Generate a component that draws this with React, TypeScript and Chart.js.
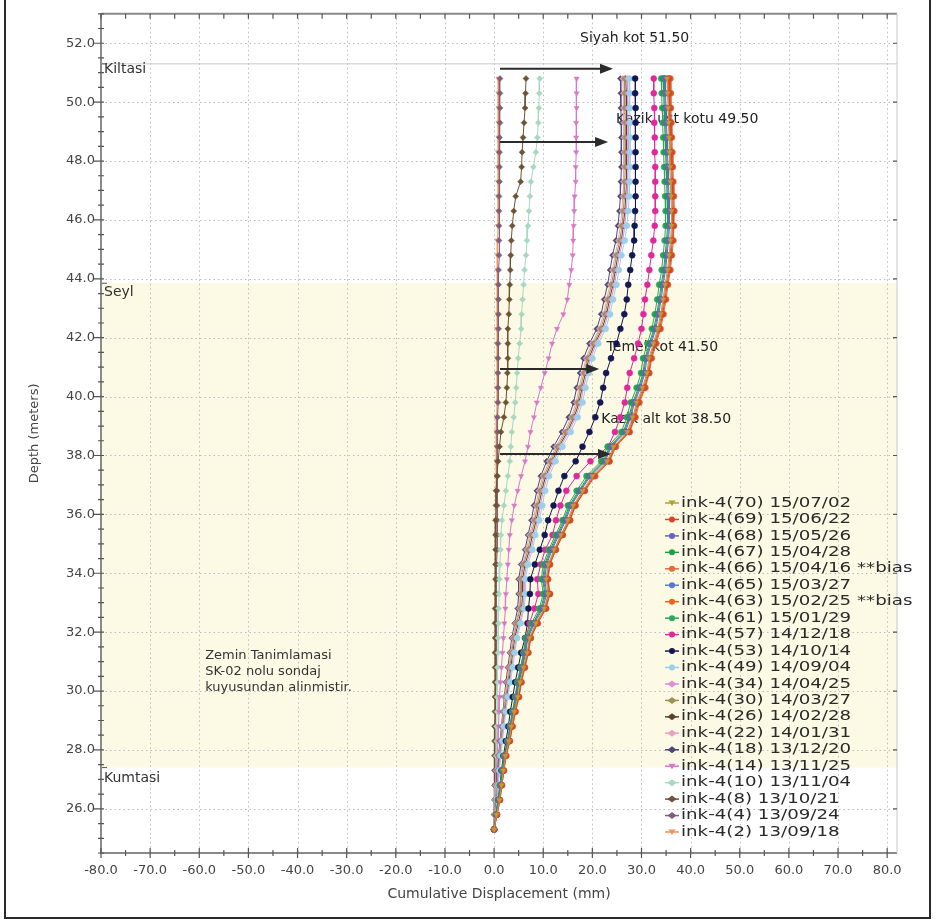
import React, { useEffect, useRef } from "react";
import { Chart, registerables } from "chart.js";

Chart.register(...registerables);

const FONT = '"DejaVu Sans", Verdana, sans-serif';

// depth of each reading (m), top to bottom
const depths = [50.8, 50.3, 49.8, 49.3, 48.8, 48.3, 47.8, 47.3, 46.8, 46.3, 45.8, 45.3, 44.8, 44.3, 43.8, 43.3, 42.8, 42.3, 41.8, 41.3, 40.8, 40.3, 39.8, 39.3, 38.8, 38.3, 37.8, 37.3, 36.8, 36.3, 35.8, 35.3, 34.8, 34.3, 33.8, 33.3, 32.8, 32.3, 31.8, 31.3, 30.8, 30.3, 29.8, 29.3, 28.8, 28.3, 27.8, 27.3, 26.8, 26.3, 25.8, 25.3];

// cumulative displacement (mm) per reading
const s70 = [35.2,35.3,35.4,35.5,35.6,35.7,35.8,35.9,36.0,36.1,36.1,35.9,35.6,35.3,34.8,34.4,33.9,33.3,32.4,31.5,31.1,30.2,29.0,28.2,27.1,24.3,23.0,20.0,18.0,16.1,15.0,13.6,12.2,11.0,10.6,11.0,10.2,8.5,7.2,6.7,6.0,5.3,4.8,4.1,3.5,3.0,2.3,1.9,1.5,1.1,0.5,0.0];
const s69 = [35.6,35.7,35.8,35.9,36.0,36.1,36.2,36.3,36.4,36.5,36.5,36.3,36.0,35.7,35.2,34.8,34.3,33.7,32.8,31.9,31.5,30.6,29.4,28.6,27.5,24.6,23.4,20.4,18.4,16.5,15.4,13.9,12.5,11.3,10.9,11.3,10.5,8.8,7.4,6.9,6.2,5.5,5.0,4.3,3.7,3.2,2.4,2.0,1.6,1.2,0.6,0.0];
const s68 = [34.8,34.9,35.0,35.1,35.2,35.3,35.4,35.5,35.6,35.7,35.7,35.5,35.2,34.9,34.4,34.0,33.5,32.9,32.0,31.1,30.7,29.8,28.6,27.8,26.7,23.9,22.6,19.6,17.6,15.7,14.6,13.2,11.8,10.7,10.3,10.7,9.9,8.2,6.9,6.4,5.8,5.1,4.6,4.0,3.4,2.9,2.2,1.8,1.4,1.0,0.5,0.0];
const s67 = [34.4,34.5,34.6,34.7,34.8,34.9,35.0,35.1,35.2,35.3,35.3,35.1,34.8,34.5,34.0,33.6,33.1,32.5,31.6,30.7,30.3,29.4,28.2,27.4,26.3,23.5,22.2,19.2,17.2,15.3,14.2,12.8,11.4,10.3,9.9,10.3,9.5,7.9,6.6,6.2,5.6,4.9,4.4,3.8,3.3,2.8,2.1,1.7,1.3,0.9,0.4,0.0];
const s66 = [35.9,36.0,36.0,36.1,36.2,36.3,36.4,36.5,36.6,36.7,36.6,36.5,36.2,35.9,35.4,35.0,34.5,33.9,33.0,32.1,31.6,30.8,29.6,28.8,27.6,24.8,23.5,20.6,18.5,16.6,15.5,14.0,12.6,11.4,11.0,11.4,10.6,8.9,7.5,7.0,6.3,5.6,5.1,4.4,3.8,3.2,2.5,2.0,1.6,1.2,0.6,0.0];
const s65 = [34.6,34.7,34.8,34.9,35.0,35.1,35.2,35.3,35.4,35.5,35.5,35.3,35.0,34.7,34.2,33.8,33.3,32.7,31.8,30.9,30.5,29.6,28.4,27.6,26.5,23.7,22.4,19.4,17.4,15.5,14.4,13.0,11.6,10.5,10.1,10.5,9.7,8.0,6.8,6.3,5.7,5.0,4.5,3.9,3.3,2.8,2.1,1.7,1.3,0.9,0.4,0.0];
const s63 = [35.4,35.5,35.6,35.7,35.8,35.9,36.0,36.1,36.2,36.3,36.3,36.1,35.8,35.5,35.0,34.6,34.1,33.5,32.6,31.7,31.3,30.4,29.2,28.4,27.3,24.5,23.2,20.2,18.2,16.3,15.2,13.7,12.3,11.1,10.8,11.1,10.3,8.6,7.3,6.8,6.1,5.4,4.9,4.2,3.6,3.1,2.3,1.9,1.5,1.1,0.5,0.0];
const s61 = [34.0,34.1,34.2,34.3,34.4,34.5,34.6,34.7,34.8,34.9,34.9,34.7,34.4,34.1,33.6,33.2,32.7,32.1,31.2,30.3,29.9,29.0,27.8,27.0,25.9,23.1,21.8,18.8,16.8,15.0,13.9,12.5,11.1,10.0,9.6,10.0,9.2,7.6,6.4,6.0,5.4,4.7,4.3,3.7,3.2,2.7,2.0,1.6,1.2,0.9,0.4,0.0];
const s57 = [32.5,32.5,32.6,32.6,32.7,32.7,32.8,32.8,32.8,32.8,32.7,32.4,32.0,31.6,31.2,30.7,30.4,30.0,29.3,28.5,27.6,27.1,26.6,25.7,24.6,23.2,19.6,16.8,14.7,13.5,12.6,11.9,10.4,9.5,8.8,9.0,8.2,7.2,6.5,6.0,5.4,4.8,4.3,3.8,3.3,2.8,2.2,1.8,1.4,1.0,0.5,0.0];
const s53 = [28.7,28.7,28.8,28.8,28.8,28.8,28.8,28.8,28.8,28.7,28.6,28.5,28.1,27.7,27.3,27.0,26.5,25.7,24.9,23.8,22.8,22.2,21.6,20.6,19.4,18.0,16.6,14.3,13.1,12.1,11.0,10.3,9.3,8.3,7.4,7.3,7.0,6.8,6.3,5.5,4.9,4.3,3.8,3.3,2.9,2.4,1.9,1.5,1.2,0.8,0.4,0.0];
const s49 = [27.5,27.6,27.6,27.7,27.7,27.7,27.7,27.6,27.5,27.3,27.0,26.6,25.9,25.4,24.9,24.2,23.6,22.7,21.2,20.0,19.3,18.6,18.0,17.0,15.6,13.9,12.5,11.2,10.4,9.8,9.2,8.4,7.8,6.9,6.4,6.4,6.1,5.4,4.7,4.2,3.8,3.3,2.8,2.4,2.0,1.7,1.3,1.1,0.9,0.6,0.3,0.0];
const s34 = [27.1,27.2,27.2,27.3,27.3,27.3,27.3,27.2,27.1,26.9,26.6,26.2,25.5,25.0,24.5,23.8,23.2,22.3,20.8,19.6,18.9,18.2,17.6,16.6,15.2,13.5,12.1,10.8,10.0,9.4,8.9,8.1,7.5,6.6,6.1,6.1,5.9,5.2,4.5,4.0,3.6,3.2,2.7,2.3,1.9,1.6,1.3,1.0,0.8,0.6,0.3,0.0];
const s30 = [26.5,26.6,26.6,26.7,26.7,26.7,26.7,26.6,26.5,26.3,26.0,25.6,24.9,24.4,23.9,23.2,22.6,21.7,20.2,19.0,18.3,17.6,17.0,16.0,14.6,12.9,11.5,10.2,9.4,8.8,8.3,7.5,6.9,6.0,5.5,5.5,5.3,4.6,4.0,3.6,3.2,2.8,2.4,2.0,1.7,1.4,1.1,0.9,0.7,0.5,0.2,0.0];
const s26 = [26.8,26.9,26.9,27.0,27.0,27.0,27.0,26.9,26.8,26.6,26.3,25.9,25.2,24.7,24.2,23.5,22.9,22.0,20.5,19.3,18.6,17.9,17.3,16.3,14.9,13.2,11.8,10.5,9.7,9.1,8.6,7.8,7.2,6.3,5.8,5.8,5.6,4.9,4.2,3.8,3.4,3.0,2.6,2.2,1.8,1.5,1.2,1.0,0.8,0.5,0.2,0.0];
const s22 = [26.2,26.3,26.3,26.4,26.4,26.4,26.4,26.3,26.2,26.0,25.7,25.3,24.6,24.1,23.6,22.9,22.3,21.4,19.9,18.7,18.0,17.3,16.7,15.7,14.3,12.6,11.2,9.9,9.1,8.5,8.0,7.2,6.6,5.8,5.3,5.3,5.1,4.4,3.8,3.4,3.0,2.6,2.2,1.9,1.6,1.3,1.0,0.8,0.6,0.4,0.2,0.0];
const s18 = [25.7,25.8,25.8,25.9,25.9,25.9,25.9,25.8,25.7,25.5,25.2,24.8,24.1,23.6,23.1,22.4,21.8,20.9,19.4,18.2,17.5,16.8,16.2,15.2,13.8,12.1,10.7,9.5,8.7,8.1,7.6,6.9,6.3,5.5,5.0,5.0,4.8,4.2,3.6,3.2,2.8,2.4,2.1,1.8,1.5,1.2,0.9,0.7,0.6,0.4,0.2,0.0];
const s14 = [16.8,16.8,16.8,16.7,16.7,16.7,16.6,16.6,16.4,16.3,16.2,16.1,16.0,15.7,15.3,14.9,14.1,12.8,11.8,11.1,10.3,9.5,8.7,8.1,7.4,6.9,6.3,5.5,4.8,4.1,3.6,3.2,3.0,2.8,2.6,2.4,2.3,2.1,1.9,1.7,1.5,1.3,1.1,1.0,0.9,0.8,0.6,0.5,0.4,0.3,0.1,0.0];
const s10 = [9.3,9.2,9.1,9.0,8.8,8.5,8.0,7.5,7.3,7.1,6.9,6.7,6.5,6.2,6.0,5.8,5.6,5.5,5.2,4.9,4.7,4.5,4.3,4.0,3.6,3.4,3.2,2.8,2.4,2.0,1.6,1.4,1.3,1.2,1.1,1.0,0.9,0.9,0.8,0.8,0.7,0.7,0.6,0.6,0.5,0.5,0.4,0.4,0.3,0.2,0.1,0.0];
const s8 = [6.5,6.4,6.3,6.1,5.9,5.7,5.6,5.4,4.4,4.0,3.7,3.5,3.4,3.3,3.2,3.1,3.0,2.8,2.8,2.8,2.7,2.6,2.4,2.0,1.4,1.1,0.8,0.6,0.4,0.4,0.3,0.3,0.3,0.3,0.3,0.3,0.2,0.2,0.2,0.2,0.2,0.2,0.2,0.2,0.1,0.1,0.1,0.1,0.1,0.1,0.0,0.0];
const s4 = [1.2,1.2,1.2,1.2,1.1,1.1,1.1,1.1,1.0,1.0,1.0,1.0,1.0,0.9,0.9,0.9,0.9,0.9,0.8,0.8,0.8,0.8,0.8,0.7,0.7,0.7,0.7,0.7,0.6,0.6,0.6,0.6,0.6,0.5,0.5,0.5,0.5,0.5,0.4,0.4,0.4,0.4,0.3,0.3,0.3,0.3,0.2,0.2,0.2,0.1,0.1,0.0];
const s2 = [0.9,0.9,0.9,0.9,0.9,0.8,0.8,0.8,0.8,0.8,0.8,0.7,0.7,0.7,0.7,0.7,0.7,0.6,0.6,0.6,0.6,0.6,0.6,0.5,0.5,0.5,0.5,0.5,0.5,0.4,0.4,0.4,0.4,0.4,0.4,0.3,0.3,0.3,0.3,0.3,0.3,0.2,0.2,0.2,0.2,0.2,0.1,0.1,0.1,0.1,0.0,0.0];

const seriesLabels = [
  "ink-4(70) 15/07/02", "ink-4(69) 15/06/22", "ink-4(68) 15/05/26", "ink-4(67) 15/04/28",
  "ink-4(66) 15/04/16 **bias", "ink-4(65) 15/03/27", "ink-4(63) 15/02/25 **bias", "ink-4(61) 15/01/29",
  "ink-4(57) 14/12/18", "ink-4(53) 14/10/14", "ink-4(49) 14/09/04", "ink-4(34) 14/04/25",
  "ink-4(30) 14/03/27", "ink-4(26) 14/02/28", "ink-4(22) 14/01/31", "ink-4(18) 13/12/20",
  "ink-4(14) 13/11/25", "ink-4(10) 13/11/04", "ink-4(8) 13/10/21", "ink-4(4) 13/09/24", "ink-4(2) 13/09/18",
];
const seriesValues = [s70, s69, s68, s67, s66, s65, s63, s61, s57, s53, s49, s34, s30, s26, s22, s18, s14, s10, s8, s4, s2];
const seriesColors = [
  "#b8a032", "#d9452a", "#6464c0", "#1f9e4a", "#e06a3a", "#5878c8", "#e8661e", "#2ea85a",
  "#e0289a", "#141850", "#9ccfea", "#e08cd8", "#a09058", "#5a4028", "#eaa0bc", "#4a4a78",
  "#d878c8", "#a8d8c0", "#6e5434", "#806078", "#f0925a",
];
const seriesMarkers = [
  "triangle", "circle", "circle", "circle", "circle", "circle", "circle", "circle",
  "circle", "circle", "circle", "rectRot", "rectRot", "rectRot", "rectRot", "rectRot",
  "triangle", "rectRot", "rectRot", "rectRot", "triangle",
];

const xTicks = [-80, -70, -60, -50, -40, -30, -20, -10, 0, 10, 20, 30, 40, 50, 60, 70, 80];
const yTicks = [26, 28, 30, 32, 34, 36, 38, 40, 42, 44, 46, 48, 50, 52];

// annotations
const arrowDepths = [51.13, 48.65, 40.94, 38.05];
const arrowFrom = [1.2, 1.2, 1.2, 1.2];
const arrowTo = [24.2, 23.2, 21.4, 23.8];
const noteTexts = ["Siyah kot 51.50", "Kazik ust kotu 49.50", "Temel kot 41.50", "Kazik alt kot 38.50"];
const noteX = [17.5, 24.8, 22.9, 21.8];
const noteY = [52.18, 49.43, 41.68, 39.23];

// soil layers
const layerNames = ["Kiltasi", "Seyl", "Kumtasi"];
const layerLabelDepths = [51.12, 43.55, 27.05];
const layerBounds = [51.3, 43.85, 27.4];
const zeminLines = ["Zemin Tanimlamasi", "SK-02 nolu sondaj", "kuyusundan alinmistir."];
const zeminX = -58.8;
const zeminY = [31.22, 30.67, 30.12];

export default function App() {
  const ref = useRef<HTMLCanvasElement | null>(null);

  useEffect(() => {
    const canvas = ref.current;
    if (!canvas) return;

    const backPlugin = {
      id: "backPlugin",
      beforeDatasetsDraw(chart: any) {
        const { ctx, chartArea: a } = chart;
        const x = chart.scales.x, y = chart.scales.y;
        ctx.save();
        ctx.fillStyle = "#ffffff";
        ctx.fillRect(a.left, a.top, a.right - a.left, a.bottom - a.top);
        const yt = y.getPixelForValue(layerBounds[1]);
        const yb = y.getPixelForValue(layerBounds[2]);
        ctx.fillStyle = "rgb(252,249,229)";
        ctx.fillRect(a.left, yt, a.right - a.left, yb - yt);
        const y0 = y.getPixelForValue(layerBounds[0]);
        ctx.strokeStyle = "#dcdcdc";
        ctx.lineWidth = 1.5;
        ctx.beginPath();
        ctx.moveTo(a.left, y0);
        ctx.lineTo(a.right, y0);
        ctx.stroke();
        // grid
        ctx.strokeStyle = "#bdbdbd";
        ctx.lineWidth = 1;
        ctx.setLineDash([1.5, 3]);
        for (const v of xTicks) {
          const px = Math.round(x.getPixelForValue(v)) + 0.5;
          if (px < a.left + 2 || px > a.right - 2) continue;
          ctx.beginPath();
          ctx.moveTo(px, a.top);
          ctx.lineTo(px, a.bottom);
          ctx.stroke();
        }
        for (const v of yTicks) {
          const py = Math.round(y.getPixelForValue(v)) + 0.5;
          ctx.beginPath();
          ctx.moveTo(a.left, py);
          ctx.lineTo(a.right, py);
          ctx.stroke();
        }
        ctx.setLineDash([]);
        // layer boundary marks & labels
        ctx.strokeStyle = "#555";
        ctx.lineWidth = 1;
        for (const b of layerBounds) {
          const py = y.getPixelForValue(b);
          ctx.beginPath();
          ctx.moveTo(a.left, py);
          ctx.lineTo(a.left + 6, py);
          ctx.stroke();
        }
        ctx.fillStyle = "#333";
        ctx.font = `14px ${FONT}`;
        ctx.textAlign = "left";
        ctx.textBaseline = "middle";
        layerNames.forEach((n, i) => {
          ctx.fillText(n, a.left + 3, y.getPixelForValue(layerLabelDepths[i]));
        });
        ctx.font = `13px ${FONT}`;
        zeminLines.forEach((t, i) => {
          ctx.fillText(t, x.getPixelForValue(zeminX), y.getPixelForValue(zeminY[i]));
        });
        // notes
        ctx.font = `14px ${FONT}`;
        ctx.fillStyle = "#222";
        noteTexts.forEach((t, i) => {
          ctx.fillText(t, x.getPixelForValue(noteX[i]), y.getPixelForValue(noteY[i]));
        });
        ctx.restore();
      },
      afterDatasetsDraw(chart: any) {
        const { ctx, chartArea: a } = chart;
        const x = chart.scales.x, y = chart.scales.y;
        ctx.save();
        // arrows
        ctx.strokeStyle = "#2a2a2a";
        ctx.fillStyle = "#2a2a2a";
        ctx.lineWidth = 2;
        arrowDepths.forEach((d, i) => {
          const py = y.getPixelForValue(d);
          const x1 = x.getPixelForValue(arrowFrom[i]);
          const x2 = x.getPixelForValue(arrowTo[i]);
          ctx.beginPath();
          ctx.moveTo(x1, py);
          ctx.lineTo(x2 - 10, py);
          ctx.stroke();
          ctx.beginPath();
          ctx.moveTo(x2, py);
          ctx.lineTo(x2 - 13, py - 5);
          ctx.lineTo(x2 - 13, py + 5);
          ctx.closePath();
          ctx.fill();
        });
        // axes frame
        ctx.strokeStyle = "#8a8a8a";
        ctx.lineWidth = 2;
        ctx.beginPath();
        ctx.moveTo(a.left, a.top);
        ctx.lineTo(a.left, a.bottom);
        ctx.lineTo(a.right, a.bottom);
        ctx.moveTo(a.left, a.top);
        ctx.lineTo(a.right, a.top);
        ctx.stroke();
        ctx.strokeStyle = "#c8c8c8";
        ctx.lineWidth = 1;
        ctx.beginPath();
        ctx.moveTo(a.right, a.top);
        ctx.lineTo(a.right, a.bottom);
        ctx.stroke();
        // ticks
        ctx.strokeStyle = "#555";
        ctx.lineWidth = 1.2;
        ctx.beginPath();
        for (let v = y.min; v <= y.max + 1e-6; v += 0.5) {
          const py = y.getPixelForValue(v);
          const major = yTicks.indexOf(Math.round(v * 10) / 10) >= 0;
          ctx.moveTo(a.left - (major ? 7 : 3), py);
          ctx.lineTo(a.left + 3, py);
          if (major) {
            ctx.moveTo(a.right - 4, py);
            ctx.lineTo(a.right, py);
          }
        }
        for (let v = -80; v <= 80; v += 5) {
          const px = x.getPixelForValue(v);
          const major = v % 10 === 0;
          ctx.moveTo(px, a.bottom - (major ? 5 : 3));
          ctx.lineTo(px, a.bottom + (major ? 5 : 3));
          ctx.moveTo(px, a.top);
          ctx.lineTo(px, a.top + 5);
        }
        ctx.stroke();
        // legend
        const lx = 665, ly = 503, rowH = 16.45;
        ctx.font = `14px ${FONT}`;
        ctx.textAlign = "left";
        ctx.textBaseline = "middle";
        chart.data.datasets.forEach((ds: any, i: number) => {
          const py = ly + i * rowH;
          ctx.strokeStyle = ds.borderColor;
          ctx.lineWidth = 1.5;
          ctx.beginPath();
          ctx.moveTo(lx, py);
          ctx.lineTo(lx + 14, py);
          ctx.stroke();
          ctx.fillStyle = ds.borderColor;
          const cx = lx + 7;
          ctx.beginPath();
          if (ds.pointStyle === "rectRot") {
            ctx.moveTo(cx, py - 3.5); ctx.lineTo(cx + 4.5, py); ctx.lineTo(cx, py + 3.5); ctx.lineTo(cx - 4.5, py);
          } else if (ds.pointStyle === "triangle") {
            ctx.moveTo(cx - 3.5, py - 2.5); ctx.lineTo(cx + 3.5, py - 2.5); ctx.lineTo(cx, py + 3);
          } else {
            ctx.arc(cx, py, 3, 0, Math.PI * 2);
          }
          ctx.closePath();
          ctx.fill();
          ctx.save();
          ctx.translate(lx + 16, py);
          ctx.scale(1.3, 1);
          ctx.fillStyle = "#2a2a2a";
          ctx.fillText(ds.label, 0, 0);
          ctx.restore();
        });
        ctx.restore();
      },
    };

    const chart = new Chart(canvas, {
      type: "line",
      data: {
        datasets: seriesValues.map((vals, i) => ({
          label: seriesLabels[i],
          data: depths.map((d, k) => ({ x: vals[k], y: d })),
          borderColor: seriesColors[i],
          backgroundColor: seriesColors[i],
          pointBackgroundColor: seriesColors[i],
          pointBorderColor: seriesColors[i],
          pointStyle: seriesMarkers[i] as any,
          pointRotation: seriesMarkers[i] === "triangle" ? 180 : 0,
          pointRadius: 3,
          pointBorderWidth: 0.5,
          borderWidth: 1,
          tension: 0,
          fill: false,
        })),
      },
      options: {
        responsive: false,
        animation: false,
        events: [],
        layout: { padding: { left: 0, top: 12, right: 39, bottom: 0 } },
        plugins: { legend: { display: false }, tooltip: { enabled: false }, title: { display: false } },
        scales: {
          x: {
            type: "linear",
            min: -80,
            max: 82,
            grid: { display: false, drawTicks: false },
            border: { display: false },
            afterBuildTicks: (s: any) => { s.ticks = xTicks.map((v) => ({ value: v })); },
            afterFit: (s: any) => { s.height = 70; },
            ticks: {
              autoSkip: false,
              maxRotation: 0,
              padding: 10,
              color: "#444",
              font: { family: FONT, size: 13 },
              callback: (v: any) => Number(v).toFixed(1),
            },
            title: {
              display: true,
              text: "Cumulative Displacement (mm)",
              color: "#444",
              font: { family: FONT, size: 14 },
              padding: { top: 0, bottom: 20 },
            },
          },
          y: {
            type: "linear",
            min: 24.5,
            max: 53,
            grid: { display: false, drawTicks: false },
            border: { display: false },
            afterBuildTicks: (s: any) => { s.ticks = yTicks.map((v) => ({ value: v })); },
            afterFit: (s: any) => { s.width = 101; },
            ticks: {
              autoSkip: false,
              padding: 6,
              color: "#444",
              font: { family: FONT, size: 13 },
              callback: (v: any) => Number(v).toFixed(1),
            },
            title: {
              display: true,
              text: "Depth (meters)",
              color: "#444",
              font: { family: FONT, size: 13 },
              padding: { top: 27, bottom: 0 },
            },
          },
        },
      },
      plugins: [backPlugin],
    });

    return () => chart.destroy();
  }, []);

  return (
    <div style={{ position: "absolute", left: 0, top: 0, width: 936, height: 923, background: "#fff", overflow: "hidden" }}>
      <canvas ref={ref} width={936} height={923} style={{ display: "block" }} />
      <div
        style={{
          position: "absolute",
          left: 4,
          top: -2,
          width: 927,
          height: 921,
          border: "2px solid #2a2a2a",
          boxSizing: "border-box",
          pointerEvents: "none",
        }}
      />
    </div>
  );
}
